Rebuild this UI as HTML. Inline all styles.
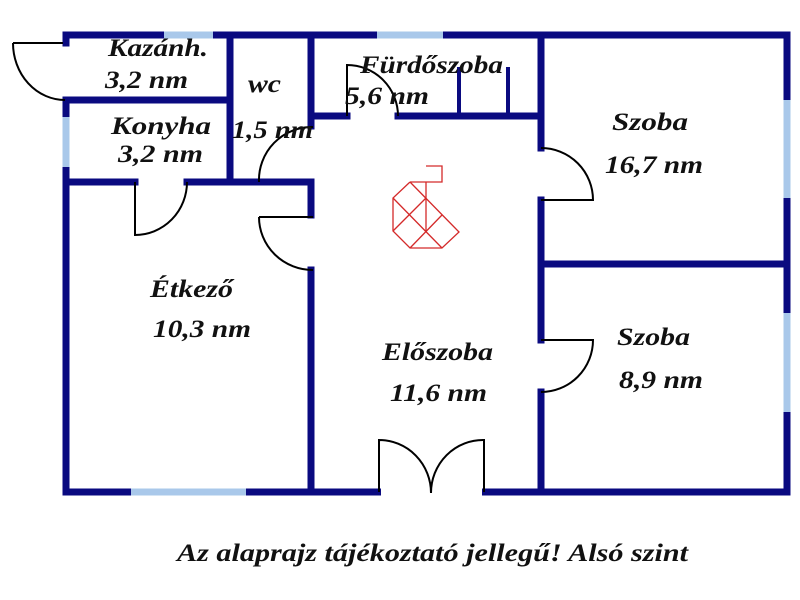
<!DOCTYPE html>
<html><head><meta charset="utf-8"><style>
html,body{margin:0;padding:0;background:#fff;}
svg{display:block;}
</style></head><body>
<svg width="800" height="600" viewBox="0 0 800 600" xmlns="http://www.w3.org/2000/svg">
<g stroke="#0a0a80" stroke-width="7" fill="none" stroke-linecap="square">
  <path d="M66,43 V35 H787 V492 H66 V100"/>
  <path d="M66,100 H230"/>
  <path d="M230,35 V182"/>
  <path d="M66,182 H135 M187,182 H311 V215"/>
  <path d="M311,35 V126"/>
  <path d="M311,270 V492"/>
  <path d="M311,116 H347 M398,116 H541"/>
  <path d="M541,35 V148 M541,200 V340 M541,392 V492"/>
  <path d="M541,264 H787"/>
</g>
<g stroke="#0a0a80" stroke-width="4">
  <path d="M459,67 V116 M508,67 V116"/>
</g>
<g stroke="#a9c8ea" stroke-width="7">
  <path d="M164,35 H213"/>
  <path d="M377,35 H443"/>
  <path d="M66,117 V167"/>
  <path d="M787,100 V198"/>
  <path d="M787,313 V412"/>
  <path d="M131,492 H246"/>
</g>
<rect x="381" y="486" width="101" height="12" fill="#fff"/>
<g stroke="#000" stroke-width="2" fill="none">
  <path d="M13,43 H63 M13,43 A52,57 0 0 0 65,100"/>
  <path d="M135,182 V235 A52,53 0 0 0 187,182"/>
  <path d="M313,127 A53,53 0 0 0 259,182"/>
  <path d="M259,217 H313 M259,217 A54,53 0 0 0 313,270"/>
  <path d="M347,116 V65 A51,51 0 0 1 398,116"/>
  <path d="M541,148 A52,52 0 0 1 593,200 H541"/>
  <path d="M541,340 H593 A52,52 0 0 1 541,392"/>
  <path d="M379,492 V440 A52,53 0 0 1 431,493"/>
  <path d="M484,492 V440 A52,53 0 0 0 431,493"/>
</g>
<g stroke="#d42a2a" stroke-width="1.3" fill="none">
  <path d="M426,166 H442 V182 H410"/>
  <path d="M426,182 V232"/>
  <path d="M410,182 L393,198 V231 L410,248 H442 L459,232 L410,182"/>
  <path d="M393,198 L442,248"/>
  <path d="M393,231 L426,198"/>
  <path d="M410,248 L442,215"/>
</g>
<g font-size="25" style="font-family:'Liberation Serif','Noto Serif CJK SC',serif;font-weight:bold;font-style:italic" fill="#111">
  <text x="108" y="56" textLength="100" lengthAdjust="spacingAndGlyphs">Kazánh.</text>
  <text x="105" y="88" textLength="83" lengthAdjust="spacingAndGlyphs">3,2 nm</text>
  <text x="248" y="92" textLength="33" lengthAdjust="spacingAndGlyphs">wc</text>
  <text x="111" y="134" textLength="100" lengthAdjust="spacingAndGlyphs">Konyha</text>
  <text x="118" y="162" textLength="85" lengthAdjust="spacingAndGlyphs">3,2 nm</text>
  <text x="232" y="138" textLength="81" lengthAdjust="spacingAndGlyphs">1,5 nm</text>
  <text x="360" y="73" textLength="143" lengthAdjust="spacingAndGlyphs">Fürdőszoba</text>
  <text x="345" y="104" textLength="84" lengthAdjust="spacingAndGlyphs">5,6 nm</text>
  <text x="612" y="130" textLength="76" lengthAdjust="spacingAndGlyphs">Szoba</text>
  <text x="605" y="173" textLength="98" lengthAdjust="spacingAndGlyphs">16,7 nm</text>
  <text x="150" y="297" textLength="83" lengthAdjust="spacingAndGlyphs">Étkező</text>
  <text x="153" y="337" textLength="98" lengthAdjust="spacingAndGlyphs">10,3 nm</text>
  <text x="382" y="360" textLength="111" lengthAdjust="spacingAndGlyphs">Előszoba</text>
  <text x="390" y="401" textLength="97" lengthAdjust="spacingAndGlyphs">11,6 nm</text>
  <text x="617" y="345" textLength="73" lengthAdjust="spacingAndGlyphs">Szoba</text>
  <text x="619" y="388" textLength="84" lengthAdjust="spacingAndGlyphs">8,9 nm</text>
  <text x="177" y="561" textLength="511" lengthAdjust="spacingAndGlyphs">Az alaprajz tájékoztató jellegű! Alsó szint</text>
</g>
</svg>
</body></html>
